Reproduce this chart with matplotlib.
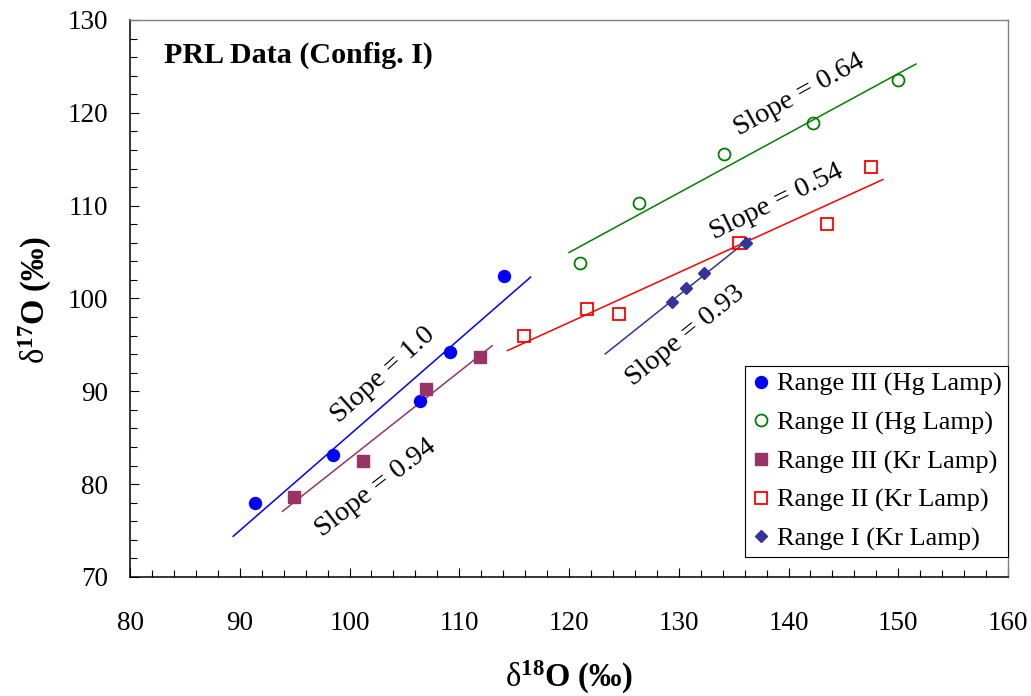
import matplotlib

matplotlib.use("Agg")
import matplotlib.pyplot as plt
import numpy as np
from matplotlib.ticker import MultipleLocator

plt.rcParams["font.family"] = ["Liberation Serif", "DejaVu Serif"]
plt.rcParams["mathtext.fontset"] = "custom"
plt.rcParams["mathtext.rm"] = "Liberation Serif"
plt.rcParams["mathtext.bf"] = "Liberation Serif:bold"
plt.rcParams["mathtext.it"] = "Liberation Serif:italic"

# delta-18O / delta-17O (permil) for each measurement set
hg_r3_x = [91.4, 98.5, 106.4, 109.2, 114.1]
hg_r3_y = [78.0, 83.1, 89.0, 94.2, 102.4]

hg_r2_x = [121.0, 126.4, 134.1, 142.2, 150.0]
hg_r2_y = [103.8, 110.3, 115.6, 118.9, 123.5]

kr_r3_x = [94.9, 101.2, 107.0, 111.9]
kr_r3_y = [78.6, 82.5, 90.3, 93.7]

kr_r2_x = [115.9, 121.6, 124.6, 135.5, 143.5, 147.5]
kr_r2_y = [96.0, 98.9, 98.3, 106.0, 108.0, 114.2]

kr_r1_x = [129.4, 130.7, 132.3, 136.1]
kr_r1_y = [99.6, 101.1, 102.7, 106.0]

# x-extent of each regression line
fit_ranges = {
    "hg_r3": (89.4, 116.5),
    "hg_r2": (120.0, 151.6),
    "kr_r3": (93.9, 113.0),
    "kr_r2": (114.4, 148.6),
    "kr_r1": (123.3, 136.5),
}

slope_labels = ["Slope = 1.0", "Slope = 0.64", "Slope = 0.94", "Slope = 0.54", "Slope = 0.93"]


def fit_line(ax, x, y, x_range, color):
    k, b = np.polyfit(x, y, 1)
    xs = np.array(x_range)
    ax.plot(xs, k * xs + b, color=color, lw=1.1, zorder=2)


fig = plt.figure(figsize=(10.31, 6.96), dpi=100)
ax = fig.add_axes([0.1261, 0.171, 0.8516, 0.8003])

series = [
    (hg_r3_x, hg_r3_y, "hg_r3", "#0000ff", dict(marker="o", ms=8.6, mfc="#0000ff", mec="#0000ff"),
     "Range III (Hg Lamp)"),
    (hg_r2_x, hg_r2_y, "hg_r2", "#008000", dict(marker="o", ms=8.6, mfc="none", mec="#008000", mew=1.3),
     "Range II (Hg Lamp)"),
    (kr_r3_x, kr_r3_y, "kr_r3", "#993366", dict(marker="s", ms=9.0, mfc="#993366", mec="#993366"),
     "Range III (Kr Lamp)"),
    (kr_r2_x, kr_r2_y, "kr_r2", "#ff0000", dict(marker="s", ms=8.4, mfc="none", mec="#ff0000", mew=1.3),
     "Range II (Kr Lamp)"),
    (kr_r1_x, kr_r1_y, "kr_r1", "#333399", dict(marker="D", ms=6.6, mfc="#333399", mec="#333399"),
     "Range I (Kr Lamp)"),
]

for x, y, key, color, style, label in series:
    fit_line(ax, x, y, fit_ranges[key], color)
    ax.plot(x, y, ls="none", label=label, zorder=3, **style)

# slope annotations: (x, y, rotation)
label_pos = [(103.1, 91.8, 42), (141.0, 121.9, 29), (102.4, 79.6, 37.5), (138.9, 110.4, 26),
             (130.6, 96.0, 39)]
for text, (lx, ly, rot) in zip(slope_labels, label_pos):
    ax.text(lx, ly, text, fontsize=20.5, rotation=rot, rotation_mode="anchor",
            ha="center", va="center")

ax.text(0.039, 0.937, "PRL Data (Config. I)", transform=ax.transAxes,
        fontsize=21.6, fontweight="bold", ha="left", va="center")

ax.set_xlim(80, 160)
ax.set_ylim(70, 130)
ax.xaxis.set_major_locator(MultipleLocator(10))
ax.xaxis.set_minor_locator(MultipleLocator(2))
ax.yaxis.set_major_locator(MultipleLocator(10))
ax.yaxis.set_minor_locator(MultipleLocator(2))
ax.tick_params(axis="both", which="both", direction="in", top=False, right=False, width=0.8)
ax.tick_params(axis="both", which="major", length=6.8, labelsize=19.5)
ax.tick_params(axis="both", which="minor", length=4.7)
ax.tick_params(axis="x", which="major", pad=24.5)
ax.tick_params(axis="y", which="major", pad=15.5)

for side in ("left", "bottom"):
    ax.spines[side].set_color("black")
    ax.spines[side].set_linewidth(1.1)
for side in ("top", "right"):
    ax.spines[side].set_color("#808080")
    ax.spines[side].set_linewidth(1.0)

fig.text(569 / 1031, 1 - 677 / 696, r"$\mathrm{\delta}^{\mathbf{18}}\mathbf{O}$ (‰)",
         fontsize=23.5, fontweight="bold", ha="center", va="center")
fig.text(35 / 1031, 1 - 300 / 696, r"$\mathrm{\delta}^{\mathbf{17}}\mathbf{O}$ (‰)",
         fontsize=23.5, fontweight="bold", ha="center", va="center", rotation=90)

leg = ax.legend(loc="lower right", bbox_to_anchor=(1.0, 0.035), borderaxespad=0,
                fontsize=19, frameon=True, fancybox=False, framealpha=1,
                edgecolor="black", borderpad=0.25, handlelength=0.71, handletextpad=0.25,
                labelspacing=0.56, numpoints=1)
leg.get_frame().set_linewidth(0.8)

fig.savefig("out.png", dpi=100)
